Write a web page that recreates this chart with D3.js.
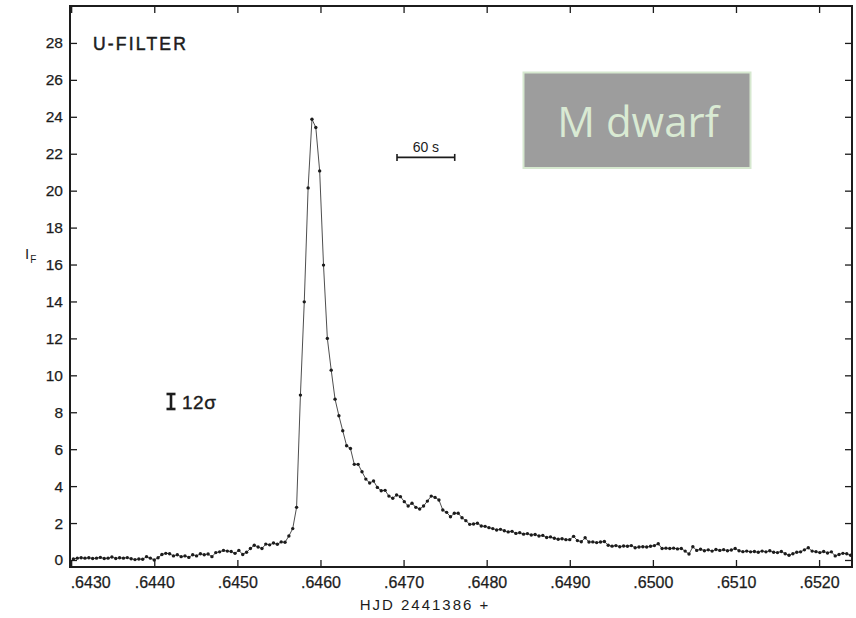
<!DOCTYPE html>
<html>
<head>
<meta charset="utf-8">
<script src="https://cdn.jsdelivr.net/npm/d3@7"></script>
<style>
  html, body { margin: 0; padding: 0; background: #ffffff; }
  svg { display: block; }
</style>
</head>
<body>
<svg id="chart" width="856" height="618"></svg>
<script>
// ---------------- DATA ----------------
// HJD - 2441386 of the first sample; samples every 4 s
const hjdStart = 0.6430273;
const timeSec = [
  0,4,8,12,16,20,24,28,32,36,
  40,44,48,52,56,60,64,68,72,76,
  80,84,88,92,96,100,104,108,112,116,
  120,124,128,132,136,140,144,148,152,156,
  160,164,168,172,176,180,184,188,192,196,
  200,204,208,212,216,220,224,228,232,236,
  240,244,248,252,256,260,264,268,272,276,
  280,284,288,292,296,300,304,308,312,316,
  320,324,328,332,336,340,344,348,352,356,
  360,364,368,372,376,380,384,388,392,396,
  400,404,408,412,416,420,424,428,432,436,
  440,444,448,452,456,460,464,468,472,476,
  480,484,488,492,496,500,504,508,512,516,
  520,524,528,532,536,540,544,548,552,556,
  560,564,568,572,576,580,584,588,592,596,
  600,604,608,612,616,620,624,628,632,636,
  640,644,648,652,656,660,664,668,672,676,
  680,684,688,692,696,700,704,708,712,716,
  720,724,728,732,736,740,744,748,752,756,
  760,764,768,772,776,780,784,788,792,796,
  800,804,808
];
const flux = [
  0.05,0.10,0.12,0.10,0.12,0.08,0.10,0.14,0.08,0.10,
  0.16,0.08,0.12,0.10,0.13,0.07,0.02,0.05,0.04,0.18,
  0.10,0.00,0.12,0.30,0.36,0.34,0.22,0.28,0.18,0.22,
  0.14,0.28,0.22,0.34,0.28,0.32,0.18,0.40,0.44,0.52,
  0.48,0.46,0.36,0.52,0.30,0.42,0.62,0.80,0.70,0.62,
  0.86,0.82,0.92,0.85,0.98,0.96,1.30,1.70,2.85,8.93,
  13.98,20.15,23.87,23.42,21.07,15.97,12.00,10.28,8.71,7.81,
  7.00,6.19,6.04,5.18,5.18,4.78,4.38,4.17,4.28,3.93,
  3.75,3.77,3.46,3.34,3.52,3.43,3.16,2.92,3.07,2.85,
  2.76,2.92,3.19,3.46,3.39,3.25,2.71,2.58,2.34,2.53,
  2.53,2.29,2.13,1.93,1.95,1.99,1.84,1.82,1.75,1.70,
  1.62,1.66,1.58,1.52,1.55,1.44,1.48,1.40,1.43,1.35,
  1.38,1.30,1.33,1.22,1.25,1.18,1.12,1.15,1.10,1.10,
  1.28,1.05,0.99,1.20,0.97,0.98,0.94,0.97,1.00,0.80,
  0.75,0.78,0.72,0.76,0.74,0.78,0.66,0.70,0.72,0.70,
  0.74,0.78,0.88,0.62,0.64,0.62,0.64,0.60,0.62,0.48,
  0.32,0.72,0.52,0.58,0.50,0.55,0.48,0.57,0.52,0.56,
  0.50,0.54,0.62,0.50,0.45,0.48,0.44,0.46,0.42,0.48,
  0.44,0.50,0.42,0.40,0.46,0.34,0.26,0.34,0.42,0.44,
  0.55,0.66,0.48,0.45,0.40,0.46,0.38,0.44,0.22,0.30,
  0.36,0.34,0.26
];
const xTicks = [0.6430,0.6440,0.6450,0.6460,0.6470,0.6480,0.6490,0.6500,0.6510,0.6520];
const xTickLabels = [".6430",".6440",".6450",".6460",".6470",".6480",".6490",".6500",".6510",".6520"];
const yTicks = [0,2,4,6,8,10,12,14,16,18,20,22,24,26,28];
const xDomain = [0.642986, 0.652396];
const yDomain = [-0.38, 30];
const scaleBarSec = 60;
const scaleBarStart = 0.646921;
const scaleBarLevel = 21.8;
const filterLabel = "U-FILTER";
const xTitle = "HJD 2441386 +";
const boxLabel = "M dwarf";

// ---------------- CHART ----------------
const svg = d3.select("#chart");
const L = 70, R = 852, T = 6, B = 567;
const x = d3.scaleLinear().domain(xDomain).range([L, R]);
const y = d3.scaleLinear().domain(yDomain).range([B, T]);
const ink = "#1c1c1c";
const font = "'Liberation Sans', Arial, sans-serif";

const pts = timeSec.map((s, i) => ({ t: hjdStart + s / 86400, v: flux[i] }));

// axes (ticks point inward)
const fmt = d => xTickLabels[xTicks.indexOf(d)];
const gB = svg.append("g").attr("transform", `translate(0,${B})`)
  .call(d3.axisBottom(x).tickValues(xTicks).tickFormat(fmt).tickSizeInner(-7).tickSizeOuter(0).tickPadding(10));
const gT = svg.append("g").attr("transform", `translate(0,${T})`)
  .call(d3.axisTop(x).tickValues(xTicks).tickFormat("").tickSizeInner(-7).tickSizeOuter(0));
const gL = svg.append("g").attr("transform", `translate(${L},0)`)
  .call(d3.axisLeft(y).tickValues(yTicks).tickFormat(d3.format("d")).tickSizeInner(-7).tickSizeOuter(0).tickPadding(7));
const gR = svg.append("g").attr("transform", `translate(${R},0)`)
  .call(d3.axisRight(y).tickValues(yTicks).tickFormat("").tickSizeInner(-7).tickSizeOuter(0));
[gB, gT, gL, gR].forEach(g => {
  g.select(".domain").remove();
  g.selectAll(".tick line").attr("stroke", ink).attr("stroke-width", 1.3);
  g.selectAll("text").attr("fill", ink).attr("font-family", font)
    .attr("stroke", ink).attr("stroke-width", 0.25);
});
gB.selectAll("text").attr("font-size", 16);
gB.selectAll(".tick").filter(d => d === xTicks[0]).select("text")
  .attr("text-anchor", "start").attr("x", -1);
gL.selectAll("text").attr("font-size", 15.5);

// frame
svg.append("rect").attr("x", L).attr("y", T).attr("width", R - L).attr("height", B - T)
  .attr("fill", "none").attr("stroke", ink).attr("stroke-width", 2);

// light curve
svg.append("path").datum(pts)
  .attr("fill", "none").attr("stroke", "#3a3a3a").attr("stroke-width", 0.9)
  .attr("d", d3.line().x(d => x(d.t)).y(d => y(d.v)));
svg.append("g").selectAll("circle").data(pts).join("circle")
  .attr("cx", d => x(d.t)).attr("cy", d => y(d.v)).attr("r", 1.7).attr("fill", ink);

// labels
svg.append("text").attr("x", 93).attr("y", 50).text(filterLabel)
  .attr("font-family", font).attr("font-size", 17.5).attr("letter-spacing", 2.2)
  .attr("fill", ink).attr("stroke", ink).attr("stroke-width", 0.5);

const yl = svg.append("text").attr("x", 25).attr("y", 259)
  .attr("font-family", font).attr("fill", ink).attr("font-size", 15);
yl.append("tspan").text("I");
yl.append("tspan").text("F").attr("font-size", 10).attr("dy", 4).attr("dx", 1);

svg.append("text").attr("x", 425).attr("y", 610).attr("text-anchor", "middle")
  .attr("font-family", font).attr("font-size", 15).attr("letter-spacing", 2)
  .attr("fill", ink).text(xTitle);

// 60 s scale bar
const sb0 = x(scaleBarStart), sb1 = x(scaleBarStart + scaleBarSec / 86400), sby = y(scaleBarLevel) ;
const sbg = svg.append("g").attr("stroke", ink).attr("stroke-width", 1.6);
sbg.append("line").attr("x1", sb0).attr("x2", sb1).attr("y1", sby).attr("y2", sby);
sbg.append("line").attr("x1", sb0).attr("x2", sb0).attr("y1", sby - 3.5).attr("y2", sby + 3.5);
sbg.append("line").attr("x1", sb1).attr("x2", sb1).attr("y1", sby - 3.5).attr("y2", sby + 3.5);
svg.append("text").attr("x", (sb0 + sb1) / 2).attr("y", sby - 5).attr("text-anchor", "middle")
  .attr("font-family", font).attr("font-size", 14).attr("fill", ink).text(scaleBarSec + " s");

// error bar annotation
const eg = svg.append("g").attr("stroke", ink).attr("stroke-width", 2.6);
eg.append("line").attr("x1", 171).attr("x2", 171).attr("y1", 394).attr("y2", 409);
eg.append("line").attr("x1", 166.5).attr("x2", 175.5).attr("y1", 394).attr("y2", 394);
eg.append("line").attr("x1", 166.5).attr("x2", 175.5).attr("y1", 409).attr("y2", 409);
svg.append("text").attr("x", 182).attr("y", 409).attr("font-family", font)
  .attr("font-size", 19).attr("letter-spacing", 0.5).attr("fill", ink)
  .attr("stroke", ink).attr("stroke-width", 0.4).text("12σ");

// M dwarf box
svg.append("rect").attr("x", 523.5).attr("y", 72.5).attr("width", 227).attr("height", 95.5)
  .attr("fill", "#9d9d9d").attr("stroke", "#d6e8cf").attr("stroke-width", 2);
svg.append("text").attr("x", 638).attr("y", 137).attr("text-anchor", "middle")
  .attr("font-family", "'Open Sans', Lato, sans-serif").attr("font-weight", 400)
  .attr("font-size", 42).attr("fill", "#d9ead3").text(boxLabel);
</script>
</body>
</html>
